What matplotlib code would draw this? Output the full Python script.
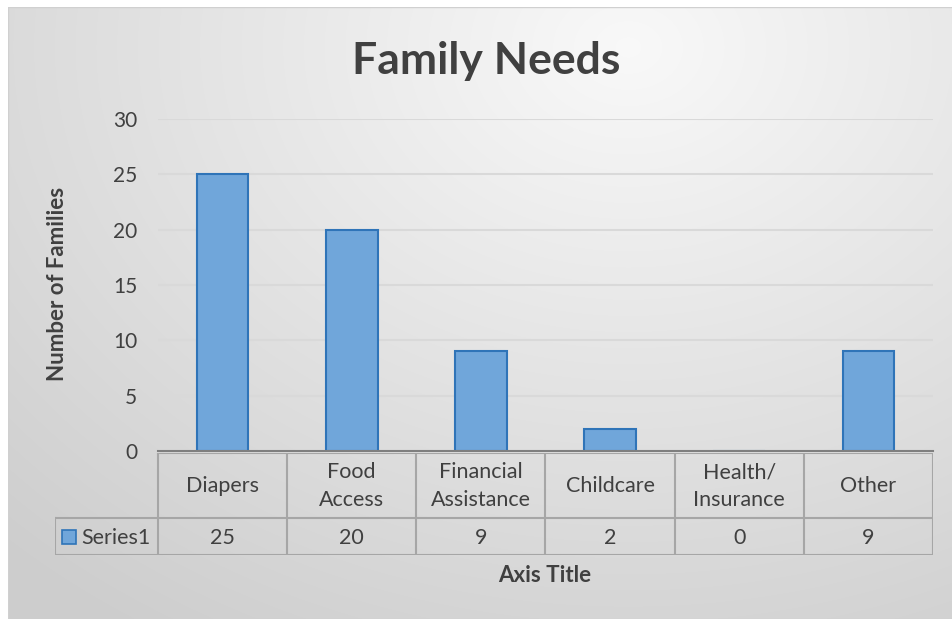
import numpy as np
import matplotlib
matplotlib.use("Agg")
import matplotlib.pyplot as plt
from matplotlib.patches import Rectangle

plt.rcParams['font.family'] = ['Lato', 'DejaVu Sans']

categories = ["Diapers", "Food\nAccess", "Financial\nAssistance", "Childcare", "Health/\nInsurance", "Other"]
values = [25, 20, 9, 2, 0, 9]
series_name = "Series1"
y_ticks = [0, 5, 10, 15, 20, 25, 30]

W, H = 953, 619
txt = "#404040"
grid_c = "#d9d9d9"
tbl_c = "#a6a6a6"
bar_fill = "#70a6da"
bar_edge = "#2f74b8"


def fx(px):
    return px / W


def fy(py):
    return 1 - py / H


fig = plt.figure(figsize=(W / 100, H / 100), dpi=100)

# chart area background: radial gray gradient
bg = fig.add_axes([fx(8), 0, fx(945), fy(7)])
bg.set_axis_off()
yy, xx = np.mgrid[0:612, 0:945]
r = np.sqrt(((xx - 620) / 900.0) ** 2 + ((yy - 40) / 700.0) ** 2)
r = np.clip(r, 0, 1)
shade = 0.975 - 0.17 * r
bg.imshow(np.dstack([shade, shade, shade]), aspect="auto", extent=[0, 1, 0, 1])
bg.add_patch(Rectangle((0, 0), 1, 1, fill=False, edgecolor="#d0d0d0", lw=1, transform=bg.transAxes))

# plot area
ax = fig.add_axes([fx(158), fy(451), fx(933 - 158), (451 - 119) / H])
ax.patch.set_alpha(0)
x = np.arange(len(categories))
ax.bar(x, values, width=0.4, color=bar_fill, edgecolor=bar_edge, linewidth=1.5, zorder=3)
ax.set_xlim(-0.5, len(categories) - 0.5)
ax.set_ylim(0, 30)
ax.set_yticks(y_ticks)
ax.set_yticklabels([str(t) for t in y_ticks], fontsize=15, color=txt)
ax.tick_params(axis="y", length=0, pad=15)
ax.set_xticks([])
for t in y_ticks[1:]:
    ax.axhline(t, color=grid_c, lw=1.5, zorder=1)
for s in ["top", "right", "left"]:
    ax.spines[s].set_visible(False)
ax.spines["bottom"].set_color("#7f7f7f")
ax.spines["bottom"].set_linewidth(1.5)
ax.spines["bottom"].set_zorder(4)

# data table
leg_w = 103 / ((933 - 158) / len(categories))
tb = fig.add_axes([fx(55), fy(555), fx(933 - 55), (555 - 453) / H])
tb.set_axis_off()
tb.patch.set_alpha(0)
x0 = -0.5 - leg_w
tb.set_xlim(x0, len(categories) - 0.5)
tb.set_ylim(0, 102)
row_mid = 37  # boundary between header row and value row (from bottom)
tb.plot([-0.5, len(categories) - 0.5], [102, 102], color=tbl_c, lw=1.5)
tb.plot([x0, len(categories) - 0.5], [row_mid, row_mid], color=tbl_c, lw=1.5)
tb.plot([x0, len(categories) - 0.5], [0, 0], color=tbl_c, lw=1.5)
tb.plot([x0, x0], [0, row_mid], color=tbl_c, lw=1.5)
for i in range(len(categories) + 1):
    tb.plot([i - 0.5, i - 0.5], [0, 102], color=tbl_c, lw=1.5)
for i, (c, v) in enumerate(zip(categories, values)):
    tb.text(i, (102 + row_mid) / 2 - 1, c, ha="center", va="center", fontsize=15.5, color=txt, linespacing=1.5)
    tb.text(i, row_mid / 2 - 1, str(v), ha="center", va="center", fontsize=15.5, color=txt)

# legend key in table
key_w = 14 / ((933 - 158) / len(categories))
tb.add_patch(Rectangle((x0 + 7 / 129.2, row_mid / 2 - 7), key_w, 14, facecolor=bar_fill,
                       edgecolor=bar_edge, lw=1.2))
tb.text(x0 + 26 / 129.2, row_mid / 2 - 1, series_name, ha="left", va="center", fontsize=15.5, color=txt)

# titles
fig.text(fx(486), fy(61), "Family Needs", ha="center", va="center", fontsize=32, fontweight="bold", color=txt)
fig.text(fx(58), fy(284), "Number of Families", ha="center", va="center", rotation=90,
         fontsize=16, fontweight="bold", color=txt)
fig.text(fx(545), fy(576), "Axis Title", ha="center", va="center", fontsize=16, fontweight="bold", color=txt)

fig.savefig("out.png", dpi=100)
